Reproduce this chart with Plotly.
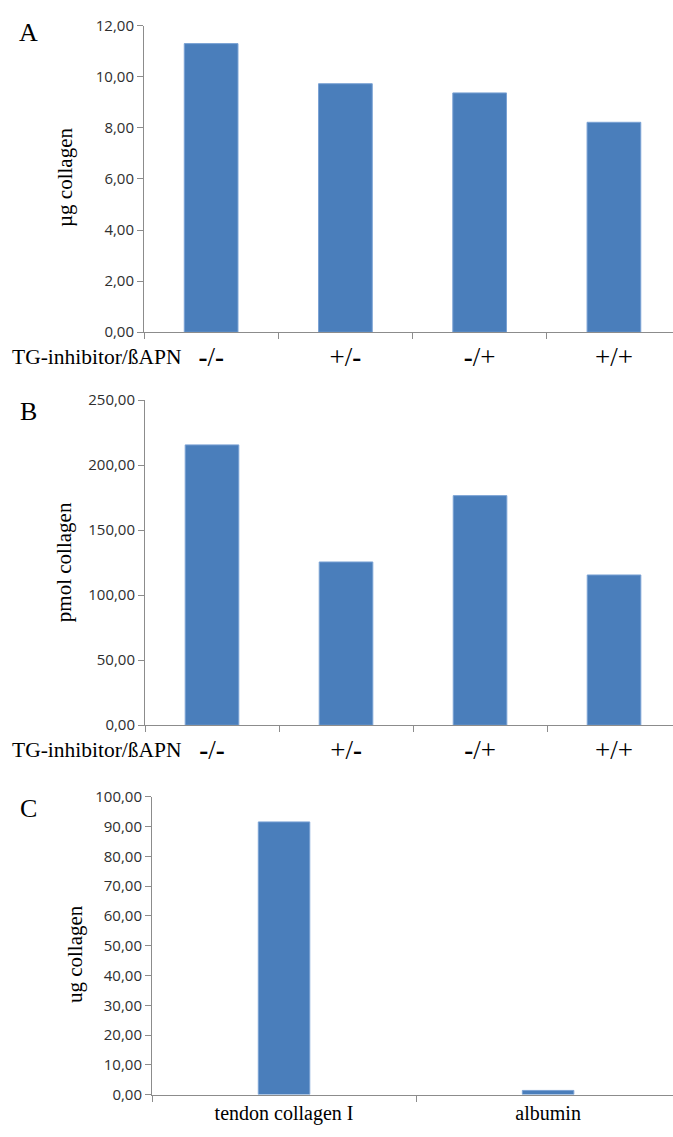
import plotly.graph_objects as go

# Panel A: total collagen (µg)
treatments = ["-/-", "+/-", "-/+", "+/+"]
collagen_ug = [11.30, 9.73, 9.37, 8.22]

# Panel B: collagen (pmol)
collagen_pmol = [215.5, 125.5, 176.5, 115.5]

# Panel C: assay controls
controls = ["tendon collagen I", "albumin"]
control_ug = [91.6, 1.4]

BAR = "#4A7EBB"
EDGE = "#7AA2D4"
AXIS = "#8C8C8C"
TICKFONT = dict(family="Open Sans, DejaVu Sans, sans-serif", size=15, color="#2E2E2E")
SERIF = "Liberation Serif, Times New Roman, serif"

W, H = 673, 1137


def px_x(v):
    return v / W


def px_y(v):
    return 1 - v / H


def bold_signs(label):
    return "".join("<b>-</b>" if c == "-" else c for c in label)


fig = go.Figure()
fig.add_trace(go.Bar(x=treatments, y=collagen_ug, xaxis="x", yaxis="y",
                     marker=dict(color=BAR, line=dict(color=EDGE, width=1)), width=0.4))
fig.add_trace(go.Bar(x=treatments, y=collagen_pmol, xaxis="x2", yaxis="y2",
                     marker=dict(color=BAR, line=dict(color=EDGE, width=1)), width=0.4))
fig.add_trace(go.Bar(x=controls, y=control_ug, xaxis="x3", yaxis="y3",
                     marker=dict(color=BAR, line=dict(color=EDGE, width=1)), width=0.195))

common_x = dict(type="category", showline=True, linecolor=AXIS, linewidth=1,
                ticks="outside", tickson="boundaries", ticklen=6, tickcolor=AXIS,
                showgrid=False, zeroline=False, fixedrange=True)
common_y = dict(showline=True, linecolor=AXIS, linewidth=1, ticks="outside", ticklen=6,
                tickcolor=AXIS, showgrid=False, zeroline=False, tickfont=TICKFONT,
                fixedrange=True)

SIGN_FONT = dict(family=SERIF, size=27, color="black")

fig.update_layout(
    width=W, height=H, margin=dict(l=0, r=0, t=0, b=0),
    paper_bgcolor="white", plot_bgcolor="white", showlegend=False, bargap=0.6,
    separators=", ",
    xaxis=dict(common_x, domain=[px_x(144), 1], anchor="y", range=[-0.5, 3.44],
               tickvals=treatments, ticktext=[bold_signs(t) for t in treatments],
               tickfont=SIGN_FONT),
    yaxis=dict(common_y, domain=[px_y(327), px_y(15)], anchor="x", range=[0, 12],
               dtick=2, tickformat=".2f"),
    xaxis2=dict(common_x, domain=[px_x(145), 1], anchor="y2", range=[-0.5, 3.44],
                tickvals=treatments, ticktext=[bold_signs(t) for t in treatments],
                tickfont=SIGN_FONT),
    yaxis2=dict(common_y, domain=[px_y(727), px_y(396)], anchor="x2", range=[0, 250],
                dtick=50, tickformat=".2f"),
    xaxis3=dict(common_x, domain=[px_x(152), 1], anchor="y3", range=[-0.5, 1.473],
                tickfont=dict(family=SERIF, size=20, color="black")),
    yaxis3=dict(common_y, domain=[px_y(1103), px_y(800)], anchor="x3", range=[0, 100],
                dtick=10, tickformat=".2f"),
)

annotations = [
    dict(text="A", x=px_x(28), y=px_y(22)),
    dict(text="B", x=px_x(28), y=px_y(408)),
    dict(text="C", x=px_x(28), y=px_y(812)),
]
for a in annotations:
    a.update(xref="paper", yref="paper", showarrow=False, xanchor="center", yanchor="middle",
             font=dict(family=SERIF, size=26, color="black"))

titles = [
    dict(text="µg collagen", x=px_x(65), y=px_y(170)),
    dict(text="pmol collagen", x=px_x(64), y=px_y(561)),
    dict(text="ug collagen", x=px_x(75), y=px_y(960)),
]
for t in titles:
    t.update(xref="paper", yref="paper", showarrow=False, textangle=-90,
             xanchor="center", yanchor="middle",
             font=dict(family=SERIF, size=21, color="black"))

row_labels = [
    dict(text="TG-inhibitor/ßAPN", x=px_x(184), y=px_y(352)),
    dict(text="TG-inhibitor/ßAPN", x=px_x(184), y=px_y(752)),
]
for r in row_labels:
    r.update(xref="paper", yref="paper", showarrow=False, xanchor="right", yanchor="middle",
             font=dict(family=SERIF, size=21.5, color="black"))

fig.update_layout(annotations=annotations + titles + row_labels)

fig.write_html("out.html")
